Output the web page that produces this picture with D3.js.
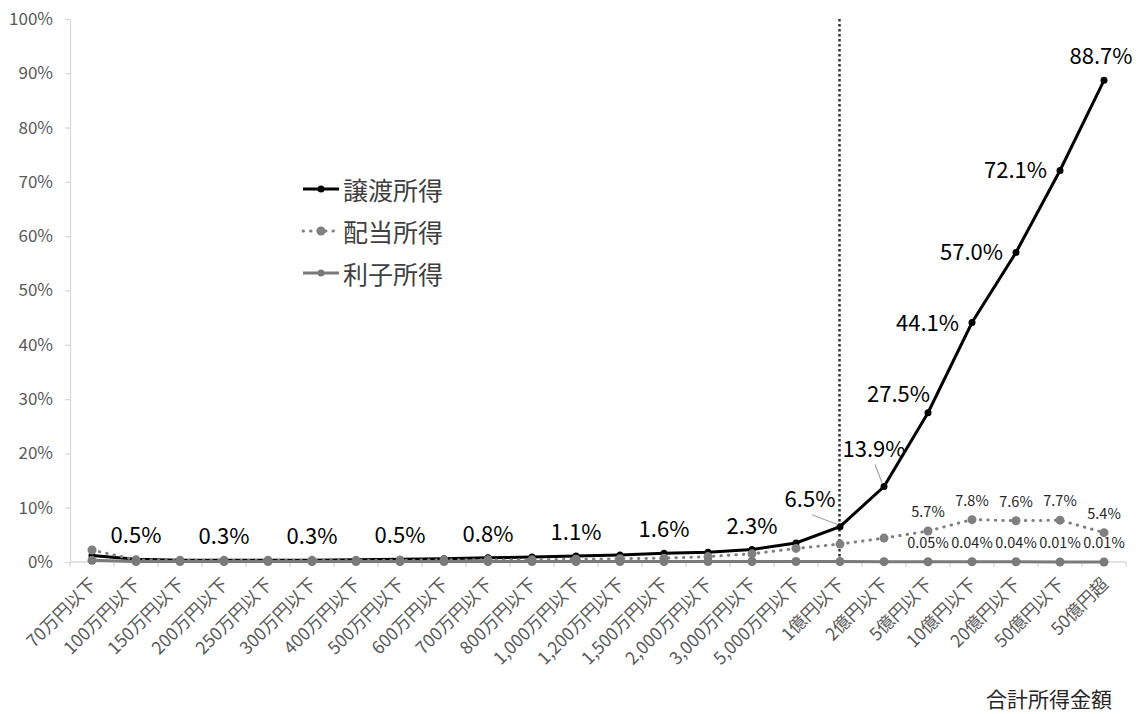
<!DOCTYPE html>
<html><head><meta charset="utf-8">
<script src="https://cdn.jsdelivr.net/npm/d3@7"></script>
<style>
html,body{margin:0;padding:0;background:#fff;}
svg{display:block;font-family:"Noto Sans CJK JP","Noto Sans",sans-serif;}
</style></head>
<body><svg id="c" width="1136" height="714"></svg>
<script>
const categories = ["70万円以下","100万円以下","150万円以下","200万円以下","250万円以下","300万円以下","400万円以下","500万円以下","600万円以下","700万円以下","800万円以下","1,000万円以下","1,200万円以下","1,500万円以下","2,000万円以下","3,000万円以下","5,000万円以下","1億円以下","2億円以下","5億円以下","10億円以下","20億円以下","50億円以下","50億円超"];
const capitalGains = [1.2,0.5,0.3,0.3,0.3,0.3,0.4,0.5,0.6,0.8,0.9,1.1,1.3,1.6,1.8,2.3,3.5,6.5,13.9,27.5,44.1,57.0,72.1,88.7];
const dividends    = [2.2,0.4,0.3,0.3,0.3,0.3,0.3,0.3,0.4,0.4,0.4,0.5,0.6,0.7,1.0,1.5,2.5,3.3,4.4,5.7,7.8,7.6,7.7,5.4];
const interest     = [0.3,0.1,0.1,0.1,0.1,0.1,0.1,0.1,0.1,0.1,0.1,0.1,0.1,0.1,0.1,0.1,0.1,0.08,0.06,0.05,0.04,0.04,0.01,0.01];
const yTicks = [0,10,20,30,40,50,60,70,80,90,100];
const seriesNames = ["譲渡所得","配当所得","利子所得"];
const capLabelIdx = [1,3,5,7,9,11,13,15,17,18,19,20,21,22,23];
const divLabelIdx = [19,20,21,22,23];
const intLabelIdx = [19,20,21,22,23];
const xTitle = "合計所得金額";
const dividerCategory = "1億円以下";

const svg = d3.select("#c");
const x = d3.scaleBand().domain(categories).range([70,1126]);
const cx = c => x(c) + x.bandwidth()/2;
const y = d3.scaleLinear().domain([0,100]).range([562,19]);

// y axis
const ya = svg.append("g").attr("transform","translate(70,0)")
  .call(d3.axisLeft(y).tickValues(yTicks).tickFormat(d=>d+"%").tickSize(5).tickSizeOuter(0).tickPadding(12));
ya.select(".domain").attr("stroke","#d9d9d9").attr("stroke-width",1.3);
ya.selectAll(".tick line").attr("stroke","#d9d9d9").attr("stroke-width",1.3);
ya.selectAll(".tick text").attr("fill","#595959").style("font-size","17px").style("font-family","'Noto Sans CJK JP'");

// x axis
const xa = svg.append("g").attr("transform","translate(0,562)");
xa.append("line").attr("x1",70).attr("x2",1126).attr("stroke","#d9d9d9").attr("stroke-width",1.3);
xa.selectAll("line.tk").data(categories.concat([null])).join("line").attr("class","tk")
  .attr("x1",(d,i)=> d===null?1126:x(d)).attr("x2",(d,i)=> d===null?1126:x(d))
  .attr("y1",0).attr("y2",5).attr("stroke","#d9d9d9").attr("stroke-width",1.3);
svg.append("g").selectAll("text").data(categories).join("text")
  .attr("transform",d=>`translate(${cx(d)},580) rotate(-45)`)
  .attr("text-anchor","end").attr("dominant-baseline","central")
  .attr("fill","#595959").style("font-size","17.5px").text(d=>d);

svg.append("text").attr("x",1112).attr("y",707).attr("text-anchor","end")
  .attr("fill","#262626").style("font-size","21px").text(xTitle);

// divider
svg.append("line").attr("x1",cx(dividerCategory)-0.5).attr("x2",cx(dividerCategory)-0.5)
  .attr("y1",y(100)).attr("y2",y(0)).attr("stroke","#333").attr("stroke-width",2.5).attr("stroke-dasharray","2.5,2.5");

const line = d3.line().x((d,i)=>cx(categories[i])).y(d=>y(d));

function drawSeries(vals, color, width, dash, r){
  const g = svg.append("g");
  g.append("path").datum(vals).attr("d",line).attr("fill","none").attr("stroke",color)
    .attr("stroke-width",width).attr("stroke-dasharray",dash).attr("stroke-linecap", dash?"round":"butt");
  g.selectAll("circle").data(vals).join("circle").attr("cx",(d,i)=>cx(categories[i])).attr("cy",d=>y(d))
    .attr("r",r).attr("fill",color);
}
drawSeries(capitalGains,"#000000",3,null,3.5);
drawSeries(dividends,"#808080",3,"0.5,7",4.5);
drawSeries(interest,"#7a7a7a",3,null,4.5);

// capital gains labels
const lg = svg.append("g").attr("fill","#000").style("font-size","22px");
capLabelIdx.forEach(i=>{
  const px = cx(categories[i]), py = y(capitalGains[i]);
  const t = capitalGains[i].toFixed(1)+"%";
  let tx=px, ty=py-16, anchor="middle";
  if(i===17){ tx=px-30; ty=py-20;
    svg.append("line").attr("x1",px-28).attr("y1",py-12).attr("x2",px-2).attr("y2",py-2).attr("stroke","#a6a6a6").attr("stroke-width",1.2);}
  else if(i===18){ tx=px-10; ty=py-30;
    svg.append("line").attr("x1",px-9).attr("y1",py-22).attr("x2",px-2).attr("y2",py-4).attr("stroke","#a6a6a6").attr("stroke-width",1.2);}
  else if(i===19){ tx=px+2; ty=py-11; anchor="end"; }
  else if(i>=20 && i<=22){ tx=px-13; ty=py+8; anchor="end"; }
  else if(i===23){ tx=px-3; ty=py-16; }
  lg.append("text").attr("x",tx).attr("y",ty).attr("text-anchor",anchor).text(t);
});
const sg = svg.append("g").attr("fill","#262626").style("font-size","14.5px").attr("text-anchor","middle");
divLabelIdx.forEach(i=>{
  sg.append("text").attr("x",cx(categories[i])).attr("y",y(dividends[i])-14).text(dividends[i].toFixed(1)+"%");
});
intLabelIdx.forEach(i=>{
  sg.append("text").attr("x",cx(categories[i])).attr("y",y(interest[i])-14).text(interest[i].toFixed(2)+"%");
});

// legend
const leg = svg.append("g");
const legStyles = [["#000000",null,3.5],["#808080","0.5,7",4.5],["#7a7a7a",null,3.5]];
seriesNames.forEach((n,k)=>{
  const ly = 189 + k*42;
  const [c,dash,r] = legStyles[k];
  leg.append("line").attr("x1",303).attr("x2",339).attr("y1",ly).attr("y2",ly).attr("stroke",c).attr("stroke-width",3)
    .attr("stroke-dasharray",dash).attr("stroke-linecap",dash?"round":"butt");
  leg.append("circle").attr("cx",321).attr("cy",ly).attr("r",r).attr("fill",c);
  leg.append("text").attr("x",343).attr("y",ly).attr("dominant-baseline","central")
    .attr("fill","#404040").style("font-size","25px").text(n);
});
</script></body></html>
